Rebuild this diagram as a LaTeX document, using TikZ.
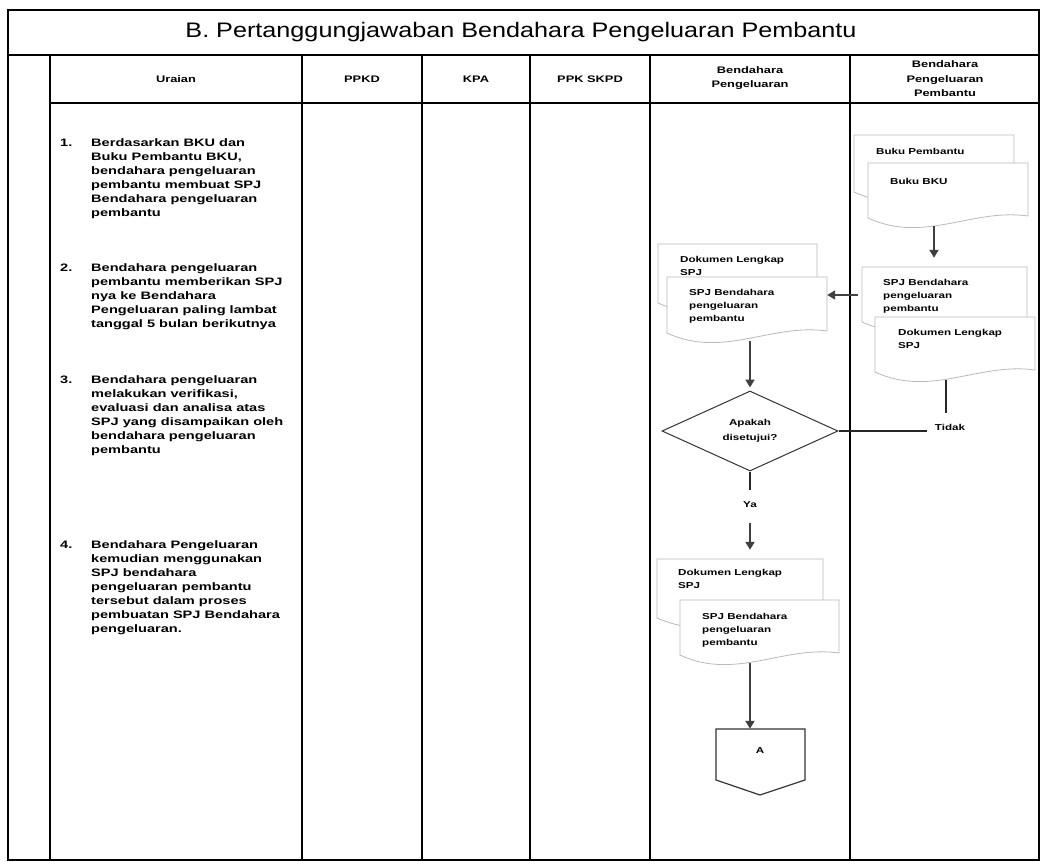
\documentclass[tikz,border=0pt]{standalone}
\usepackage{fontspec}
\setmainfont{Liberation Sans}
\newfontfamily\labfont[FakeStretch=1.35]{Liberation Sans}
\newfontfamily\ttlfont[FakeStretch=1.2]{Liberation Sans}
\usetikzlibrary{arrows.meta,shapes.geometric,fit,calc}

\tikzset{
  frame/.style={line width=1.6pt, draw=black},
  docline/.style={draw=gray!55, line width=0.8pt, fill=white},
  doctext/.style={font=\labfont\bfseries\fontsize{8.6}{13}\selectfont, align=left, inner sep=0pt, anchor=north west},
  itemtext/.style={font=\labfont\bfseries\fontsize{10.8}{14}\selectfont, align=left, inner sep=0pt, anchor=north west},
  head/.style={font=\labfont\bfseries\fontsize{9.5}{14.5}\selectfont, align=center, inner sep=0pt},
  flow/.style={line width=2pt, draw=black!75, -{Triangle[width=9pt,length=8pt]}},
  plain/.style={line width=1.4pt, draw=black!85},
  decision/.style={diamond, draw=black!80, line width=1pt, fill=white, minimum width=176pt, minimum height=80pt, inner sep=0pt, align=center, font=\labfont\bfseries\fontsize{8.6}{15}\selectfont},
  lbl/.style={inner sep=0pt, font=\labfont\bfseries\fontsize{8.6}{13}\selectfont},
}

% #1 name, #2 L, #3 T, #4 R, #5 B (left bottom), #6 text x, #7 text top, #8 text
\newcommand\docbox[8]{%
  \draw[docline] (#2,#3) -- (#4,#3) -- (#4,#5-2)
    .. controls ({#2+0.65*(#4-#2)},#5-10) and ({#2+0.35*(#4-#2)},#5+26) .. (#2,#5) -- cycle;
  \node[fit={(#2,#3) (#4,#5+8)}, inner sep=0pt] (#1) {};
  \node[doctext] (#1-t) at (#6,#7) {#8};
}

\begin{document}
\begin{tikzpicture}[x=1pt,y=-1pt]
\useasboundingbox (0,0) rectangle (1042,862);

% ---- table frame ----
\draw[frame] (8,10) rectangle (1039,860);
\draw[frame] (8,55) -- (1039,55);
\draw[frame] (50,103) -- (1039,103);
\foreach \xx in {50,302,422,530,650,850} {
  \draw[frame] (\xx,55) -- (\xx,860);
}

% ---- title and header ----
\node[font=\ttlfont\fontsize{21}{24}\selectfont, inner sep=0pt] (title) at (521,32) {B. Pertanggungjawaban Bendahara Pengeluaran Pembantu};
\node[head] (h1) at (176,79) {Uraian};
\node[head] (h2) at (362,79) {PPKD};
\node[head] (h3) at (476,79) {KPA};
\node[head] (h4) at (590,79) {PPK SKPD};
\node[head] (h5) at (750,78) {Bendahara\\Pengeluaran};
\node[head] (h6) at (945,79) {Bendahara\\Pengeluaran\\Pembantu};

% ---- uraian ----
\node[itemtext] (n1) at (60,138) {\vphantom{Bd}1.};
\node[itemtext] (u1) at (91,138) {Berdasarkan BKU dan\\Buku Pembantu BKU,\\bendahara pengeluaran\\pembantu membuat SPJ\\Bendahara pengeluaran\\pembantu};
\node[itemtext] (n2) at (60,263) {\vphantom{Bd}2.};
\node[itemtext] (u2) at (91,263) {Bendahara pengeluaran\\pembantu memberikan SPJ\\nya ke Bendahara\\Pengeluaran paling lambat\\tanggal 5 bulan berikutnya};
\node[itemtext] (n3) at (60,375) {\vphantom{Bd}3.};
\node[itemtext] (u3) at (91,375) {Bendahara pengeluaran\\melakukan verifikasi,\\evaluasi dan analisa atas\\SPJ yang disampaikan oleh\\bendahara pengeluaran\\pembantu};
\node[itemtext] (n4) at (60,540) {\vphantom{Bd}4.};
\node[itemtext] (u4) at (91,540) {Bendahara Pengeluaran\\kemudian menggunakan\\SPJ bendahara\\pengeluaran pembantu\\tersebut dalam proses\\pembuatan SPJ Bendahara\\pengeluaran.};

% ---- Bendahara Pengeluaran Pembantu column ----
\docbox{bp}{854}{135}{1014}{192}{876}{148}{Buku Pembantu}
\docbox{bku}{868}{163}{1028}{218}{890}{178}{Buku BKU}
\docbox{spjp}{862}{267}{1027}{322}{883}{279}{SPJ Bendahara\\pengeluaran\\pembantu}
\docbox{dlsp}{875}{317}{1035}{372}{898}{329}{Dokumen Lengkap\\SPJ}

% ---- Bendahara Pengeluaran column ----
\docbox{dl1}{658}{244}{817}{303}{680}{256}{Dokumen Lengkap\\SPJ}
\docbox{spj1}{667}{277}{827}{333}{689}{289}{SPJ Bendahara\\pengeluaran\\pembantu}

\node[decision] (dec) at (750,431) {Apakah\\disetujui?};
\node[lbl] (ya) at (750,505) {Ya};
\node[lbl] (tidak) at (950,427) {Tidak};

\docbox{dl2}{657}{559}{823}{618}{678}{569}{Dokumen Lengkap\\SPJ}
\docbox{spj2}{680}{600}{839}{655}{702}{613}{SPJ Bendahara\\pengeluaran\\pembantu}

% off-page connector
\draw[line width=1.2pt, draw=black!80, fill=white] (716,729) -- (805,729) -- (805,780) -- (760,795) -- (716,780) -- cycle;
\node[fit={(716,729) (805,795)}, inner sep=0pt] (conA) {};
\node[lbl] (conA-t) at (760,751) {A};

% ---- connectors ----
\draw[flow] ($(bku.south)+(-14,0)$) -- ($(spjp.north)+(-10.5,-9)$);
\coordinate (a1) at ($(spjp.west)+(-4,-3.5)$);
\draw[flow] (a1) -- (a1 -| spj1.east);
\draw[flow] (spj1.south -| dec.north) -- ($(dec.north)+(0,-3)$);
\draw[plain] ($(dlsp.south)+(-9,0)$) -- ($(tidak.north)+(-4,-11)$);
\draw[plain] (dec.east) -- ($(tidak.west)+(-8,4)$);
\draw[plain] (dec.south) -- ($(ya.north)+(0,-12)$);
\draw[flow] ($(ya.south)+(0,15)$) -- ($(dl2.north -| ya.south)+(0,-9)$);
\draw[flow] (spj2.south -| dec.south) -- (conA.north -| dec.south);
\end{tikzpicture}
\end{document}
